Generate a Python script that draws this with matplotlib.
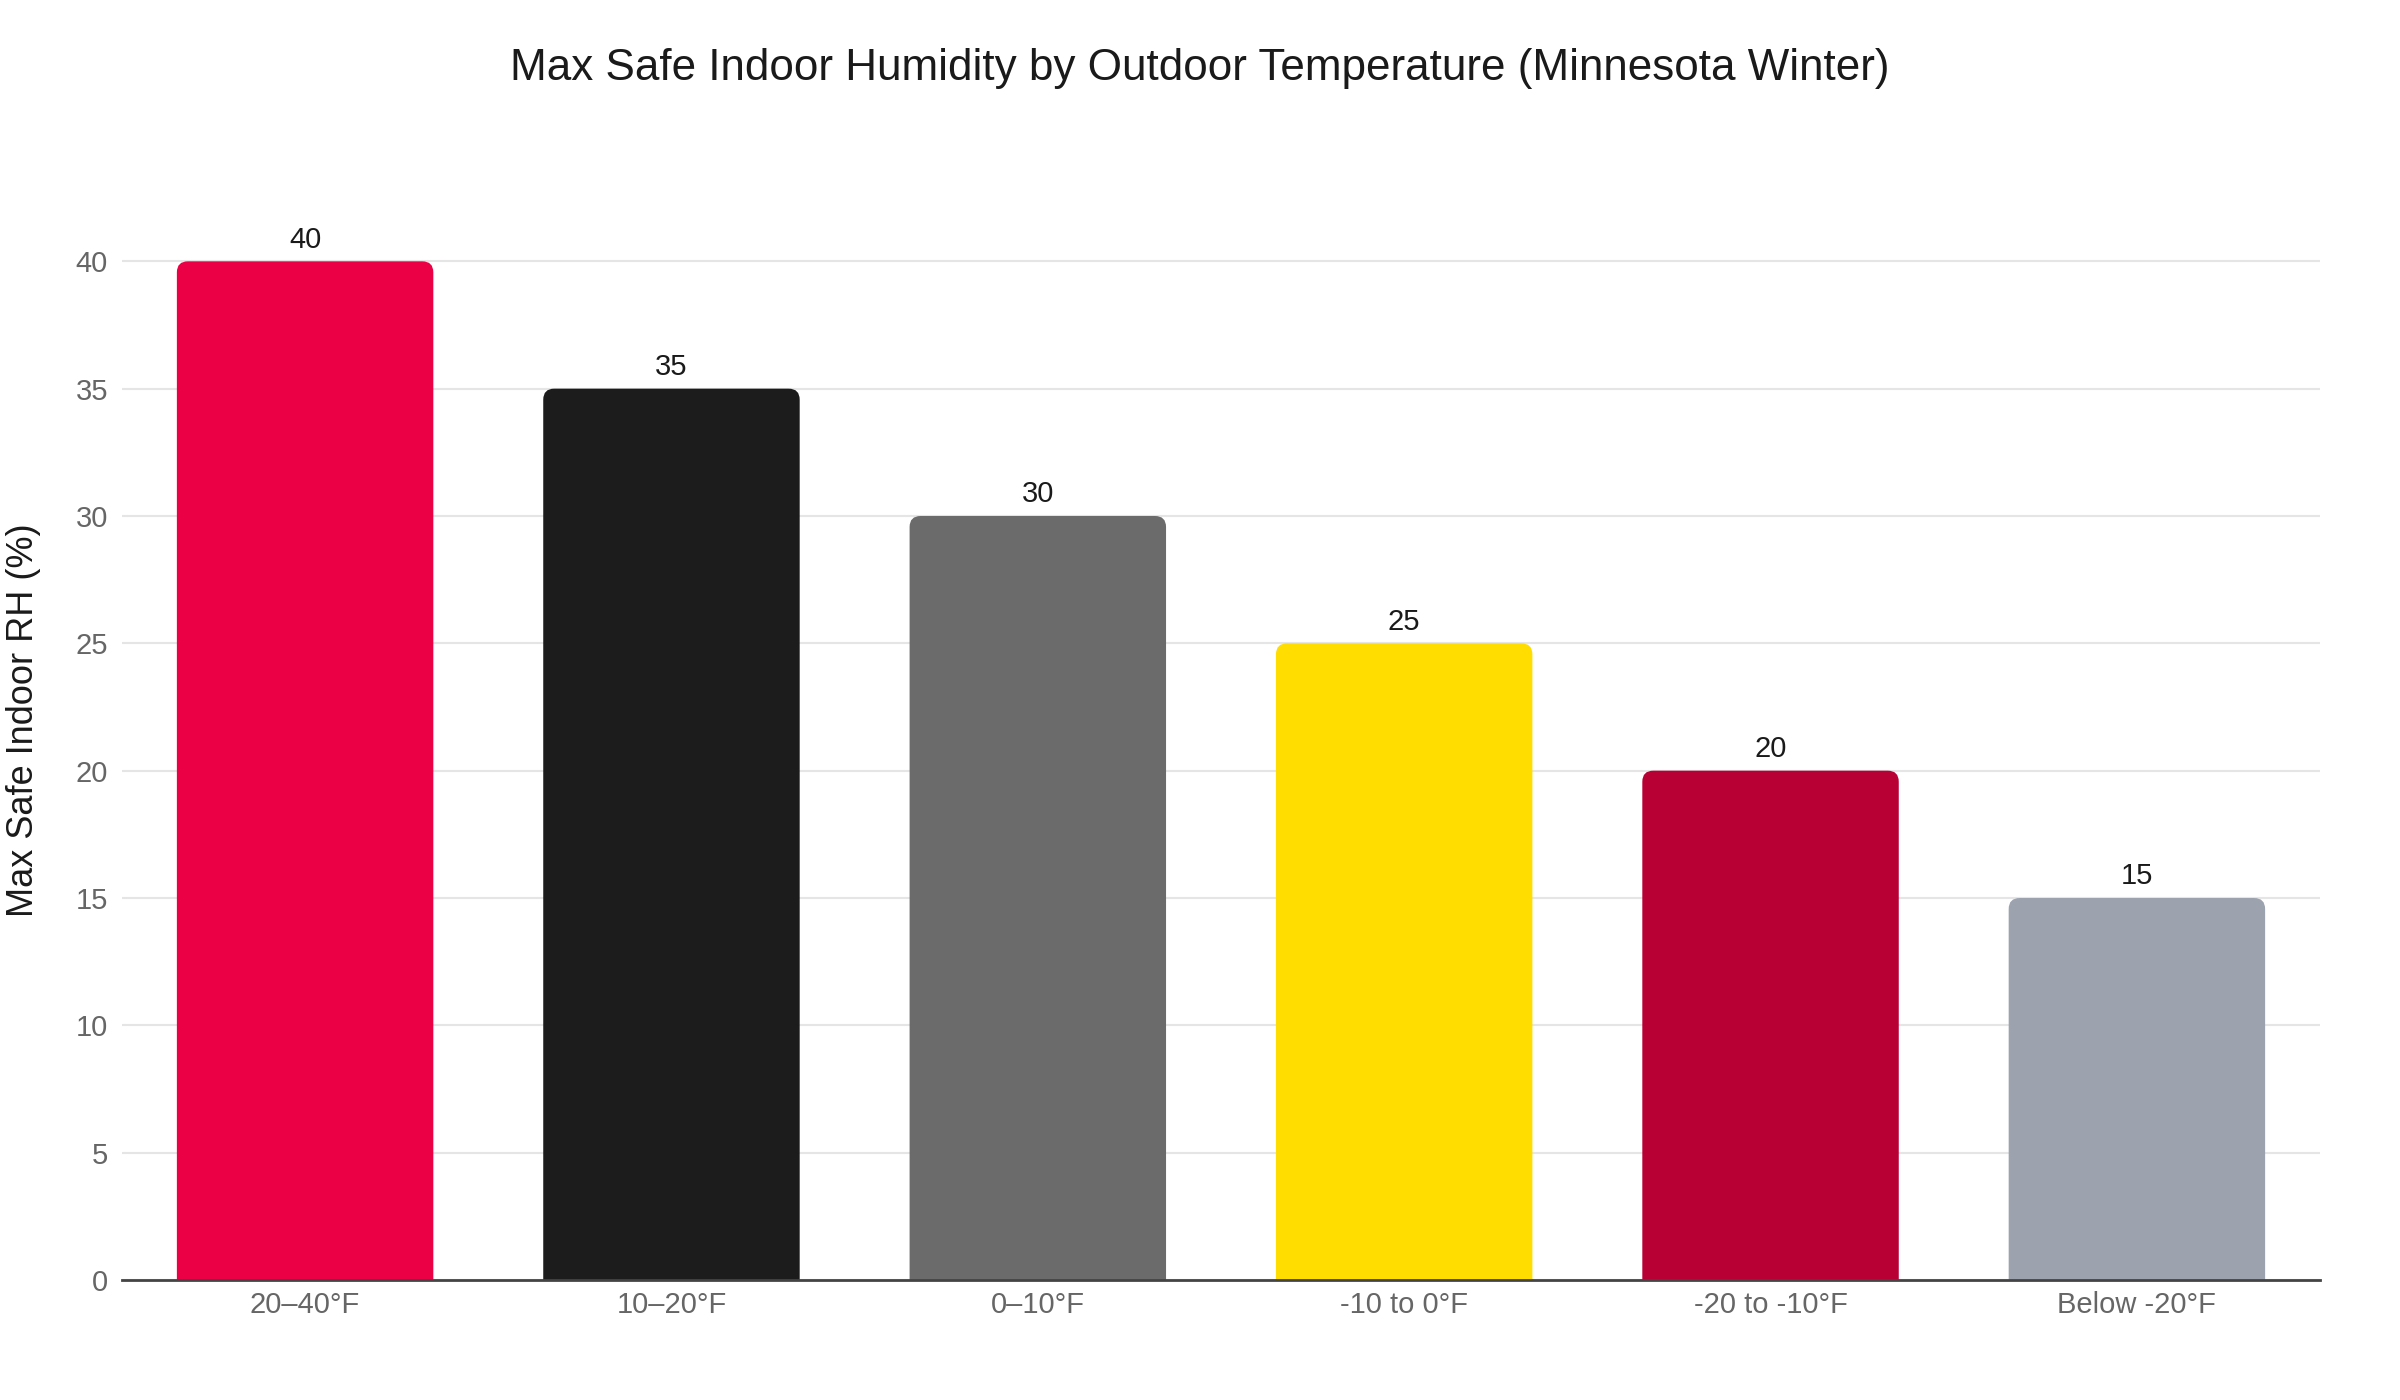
import matplotlib
matplotlib.use("Agg")
import matplotlib.pyplot as plt
from matplotlib.patches import FancyBboxPatch

# data
categories = ["20–40°F", "10–20°F", "0–10°F", "-10 to 0°F", "-20 to -10°F", "Below -20°F"]
max_rh = [40, 35, 30, 25, 20, 15]
bar_colors = ["#EB0045", "#1C1C1C", "#6B6B6B", "#FFDD00", "#B80035", "#9CA3AF"]

plt.rcParams["font.family"] = ["Liberation Sans", "DejaVu Sans"]

fig = plt.figure(figsize=(24, 14), dpi=100)
ax = fig.add_axes([0.0508, 0.0857, 0.9159, 0.7713])

x = list(range(len(categories)))
bars = ax.bar(x, max_rh, width=0.7, color=bar_colors, zorder=2)

ax.set_xlim(-0.5, len(categories) - 0.5)
ax.set_ylim(0, 42.4)

# rounded top corners: replace each rect with a rounded box extending below the axis
for rect, c in zip(bars, bar_colors):
    rect.set_visible(False)
    x0, w, h = rect.get_x(), rect.get_width(), rect.get_height()
    patch = FancyBboxPatch(
        (x0, -2), w, h + 2,
        boxstyle="round,pad=0,rounding_size=0.03",
        mutation_aspect=14.4,
        facecolor=c, edgecolor="none", zorder=2,
    )
    ax.add_patch(patch)
    ax.text(rect.get_x() + w / 2, h + 0.3, f"{h:g}", ha="center", va="bottom",
            fontsize=21, color="#1a1a1a", zorder=3)

ax.set_xticks(x)
ax.set_xticklabels(categories)
ax.set_yticks(range(0, 45, 5))
ax.tick_params(axis="both", length=0, labelsize=21, labelcolor="#666666")
ax.tick_params(axis="x", pad=8)
ax.tick_params(axis="y", pad=10)

ax.grid(axis="y", color="#E5E5E5", linewidth=1.5, zorder=0)
ax.set_axisbelow(True)
for side in ["top", "right", "left"]:
    ax.spines[side].set_visible(False)
ax.spines["bottom"].set_color("#444444")
ax.spines["bottom"].set_linewidth(2)
ax.spines["bottom"].set_zorder(4)

ax.set_ylabel("Max Safe Indoor RH (%)", fontsize=26, color="#1a1a1a", va="center")
ax.yaxis.set_label_coords(-0.045, 0.5185)
fig.text(0.5, 0.951, "Max Safe Indoor Humidity by Outdoor Temperature (Minnesota Winter)",
         ha="center", va="center", fontsize=31.7, color="#1a1a1a")

fig.savefig("out.png", dpi=100)
